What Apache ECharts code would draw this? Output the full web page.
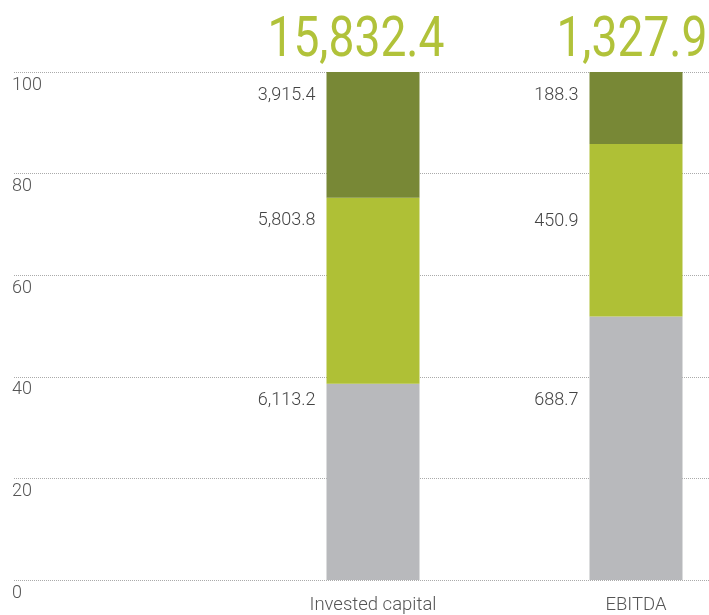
<!DOCTYPE html>
<html>
<head>
<meta charset="utf-8">
<script src="https://cdn.jsdelivr.net/npm/echarts@6/dist/echarts.min.js"></script>
<style>html,body{margin:0;padding:0;background:#fff}#c{width:709px;height:615px}</style>
</head>
<body>
<div id="c"></div>
<script>
// ---- data ----
var categories = ['Invested capital', 'EBITDA'];
var totals = [15832.4, 1327.9];
var bottomSeg = [6113.2, 688.7];   // grey
var middleSeg = [5803.8, 450.9];   // lime
var topSeg = [3915.4, 188.3];      // olive
var yTicks = [0, 20, 40, 60, 80, 100];

// ---- styles ----
var colors = ['#b8b9bc', '#afc036', '#788836'];
var labelDy = [[17, 84], [23, 77], [23, 23]]; // per segment, per category
function fmt(v) { return v.toLocaleString('en-US', {minimumFractionDigits: 1, maximumFractionDigits: 1}); }

var segs = [bottomSeg, middleSeg, topSeg];
var series = segs.map(function (arr, s) {
  return {
    type: 'bar', stack: 'all', xAxisIndex: 1, yAxisIndex: 1, barWidth: 93, clip: false,
    itemStyle: {color: colors[s]},
    data: arr.map(function (v, i) {
      return {
        value: v / totals[i] * 100,
        label: {
          show: true, position: [-11, labelDy[s][i]], align: 'right', verticalAlign: 'middle',
          formatter: fmt(v), fontFamily: 'Roboto', fontWeight: 300, fontSize: 18, color: '#444'
        }
      };
    })
  };
});

var chart = echarts.init(document.getElementById('c'));
chart.setOption({
  animation: false,
  grid: [
    {left: 14, right: 0, top: 72, bottom: 35},
    {left: 373, right: 73, top: 72, bottom: 35}
  ],
  xAxis: [
    {gridIndex: 0, type: 'category', data: [''], show: false},
    {gridIndex: 1, type: 'category', data: categories, boundaryGap: false,
     axisLine: {show: false}, axisTick: {show: false}, splitLine: {show: false},
     axisLabel: {margin: 16, fontFamily: 'Roboto', fontWeight: 300, fontSize: 18.5, color: '#555'}}
  ],
  yAxis: [
    {gridIndex: 0, type: 'value', min: yTicks[0], max: yTicks[yTicks.length - 1], interval: yTicks[1] - yTicks[0],
     axisLine: {show: false}, axisTick: {show: false},
     splitLine: {show: true, lineStyle: {type: 'dotted', color: '#aaa', width: 1}},
     axisLabel: {align: 'left', margin: 2, verticalAlign: 'top', padding: [4, 0, 0, 0],
       fontFamily: 'Roboto', fontWeight: 300, fontSize: 18, color: '#555'}},
    {gridIndex: 1, type: 'value', min: 0, max: 100, show: false}
  ],
  series: series
});

var graphics = categories.map(function (c, i) {
  var p = chart.convertToPixel({seriesIndex: 0}, [i, 100]);
  return {
    type: 'text', x: p[0] + 93 / 2 + 25, y: p[1] - 30, scaleX: 0.84,
    style: {text: fmt(totals[i]), align: 'right', verticalAlign: 'middle',
      font: '400 55px Roboto', fill: '#b1c23a'}
  };
});
chart.setOption({graphic: graphics});
</script>
</body>
</html>
